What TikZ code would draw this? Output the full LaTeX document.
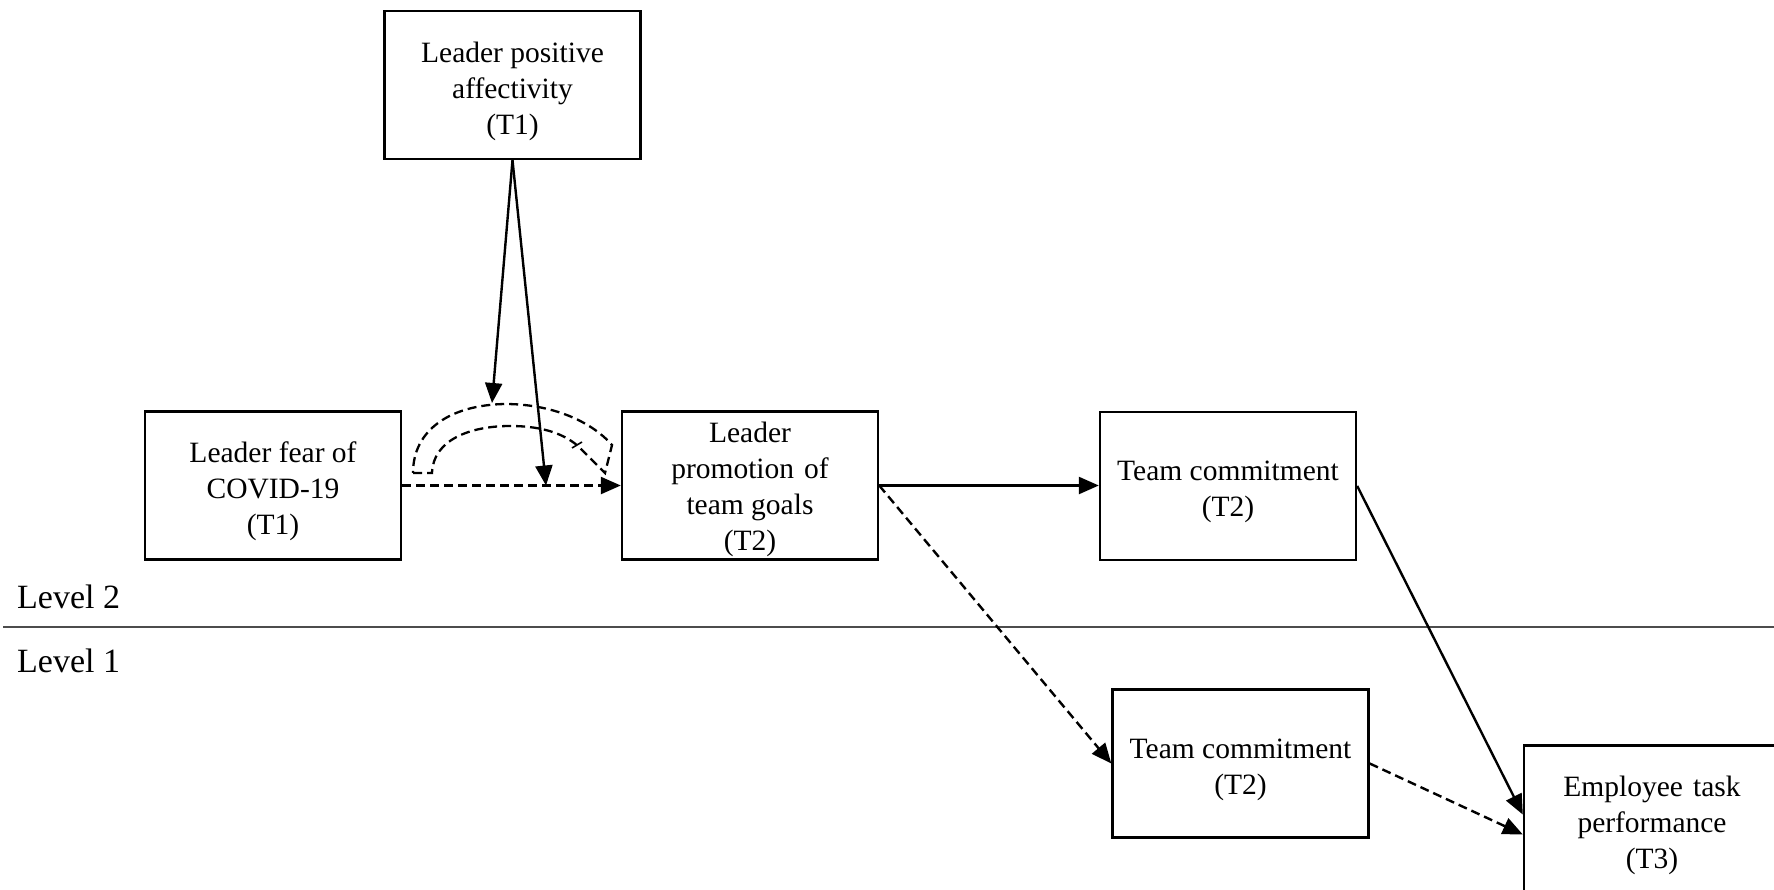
\documentclass[tikz,border=0pt]{standalone}
\usepackage{fontspec}
\setmainfont{Liberation Serif}
\usetikzlibrary{arrows.meta,calc}
\begin{document}
\begin{tikzpicture}[x=1pt,y=-1pt,
  box/.style={draw,line width=2.4pt,minimum width=256pt,minimum height=148pt,inner sep=0pt},
  txt/.style={inner sep=0pt,align=center,yshift=-6pt,font=\fontsize{29.5}{36}\selectfont},
  lvl/.style={anchor=base west,inner sep=0pt,font=\fontsize{34}{40}\selectfont},
  conn/.style={line width=2.4pt,-{Triangle[length=20pt,width=17pt]}},
  dconn/.style={conn,dash pattern=on 9pt off 5pt},
  band/.style={line width=2.3pt,dash pattern=on 9pt off 5pt,line join=miter}]
\clip (0,0) rectangle (1774,890);
\fill[white] (0,0) rectangle (1774,890);

\node[box] (pos) at (512.5,85) {};
\node[box] (fear) at (273,485.5) {};
\node[box] (prom) at (750,485.5) {};
\node[box] (tcb) at (1228,486) {};
\node[box] (tca) at (1240.5,763.5) {};
\node[box] (emp) at (1652,819.5) {};

\node[txt] (posT) at (pos) {Leader positive\\affectivity\\(T1)};
\node[txt] (fearT) at (fear) {Leader fear of\\COVID-19\\(T1)};
\node[txt,yshift=2pt] (promT) at (prom) {Leader\\promotion\hspace{10pt}of\\team goals\\(T2)};
\node[txt] (tcbT) at (tcb) {Team commitment\\(T2)};
\node[txt] (tcaT) at (tca) {Team commitment\\(T2)};
\node[txt] (empT) at (emp) {Employee\hspace{10pt}task\\performance\\(T3)};

\draw[line width=1.6pt,black!70] (3,627) coordinate (lvlL) -- (1774,627) coordinate (lvlR);
\node[lvl] (l2) at (17,608) {Level 2};
\node[lvl] (l1) at (17,672) {Level 1};

% curved hollow (dashed) arrow
\draw[band] (413,473) -- (432,473)
  .. controls (433,440) and (470,426) .. (510,426)
  .. controls (545,426) and (565,435) .. (578,446)
  -- (605,473) -- (612,445)
  .. controls (590,420) and (550,404) .. (505,404)
  .. controls (450,405) and (413,430) .. cycle;
\draw[line width=1.6pt] (572,448) -- (582,442);

\coordinate (bandtop) at (492,403);
\coordinate (pathpt) at (546,485.5);

\draw[dconn] (fear.east) -- (prom.west);
\draw[conn] (pos.south) -- (bandtop);
\draw[conn] (pos.south) -- (pathpt);
\draw[conn] (prom.east) -- (prom.east -| tcb.west);
\draw[dconn] (prom.east) -- (tca.west);
\draw[conn] (tcb.east) -- ($(emp.west)+(0,-5)$);
\draw[dconn] (tca.east) -- ($(emp.west)+(0,15)$);
\end{tikzpicture}
\end{document}
